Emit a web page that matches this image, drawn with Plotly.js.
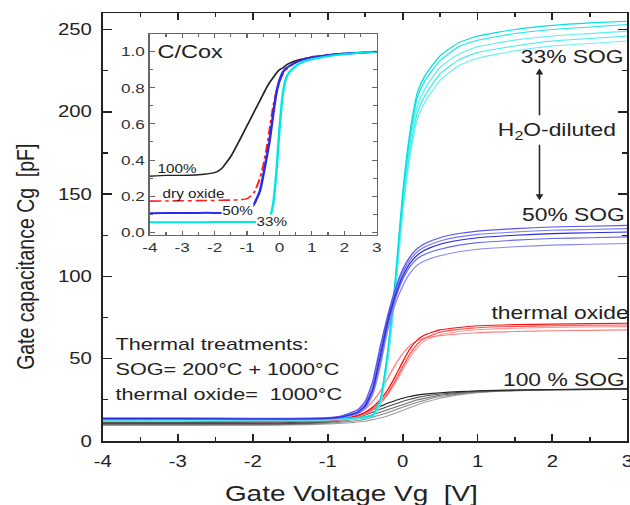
<!DOCTYPE html>
<html><head><meta charset="utf-8">
<script src="https://cdn.plot.ly/plotly-3.0.1.min.js"></script>
<style>html,body{margin:0;padding:0;background:#fff;overflow:hidden}
#wrap{width:630px;height:505px;overflow:hidden}
#chart{width:496px;height:505px;transform:scaleX(1.27);transform-origin:0 0}</style>
</head><body><div id="wrap"><div id="chart"></div></div>
<script>
// Main plot: gate voltage grid (V) and capacitance curves (pF)
var X = [-4,-3,-2,-1.5,-1,-0.8,-0.6,-0.5,-0.4,-0.3,-0.2,-0.1,0,0.1,0.2,0.3,0.5,0.75,1,1.5,2,2.5,3];
var cyan1 = [13.5,13.4,13.3,13.3,13.5,13.8,14.3,14.8,15.8,25,54,97,150,188,212,222,234,242,246,250,252.5,254,255];
var cyan2 = [13.2,13.1,13.1,13.1,13.3,13.6,14.1,14.6,15.6,24.5,53,95,147,185,209,219,231,239.5,243.5,247.5,250,251.5,253];
var cyan3 = [13.0,12.9,12.9,12.9,13.1,13.4,13.9,14.4,15.4,24,51,93,144,181,204,214,227,235,239.5,243.5,246,247.5,249];
var cyan4 = [12.8,12.7,12.7,12.7,12.9,13.2,13.7,14.2,15.2,23,50,91,141,177,200,210,223,231.5,236,240,243,244.5,246];
var cyan5 = [12.6,12.5,12.5,12.5,12.7,13,13.5,14,15,22,48,89,138,173,196,206,219,228,232.5,237,240,241.5,243];
var blue1 = [14,14,13.8,13.8,14.2,15.5,19,24,36,57,76,92,104,112,117,120,123.5,126,127.5,129,130,130.5,131];
var blue2 = [13.8,13.8,13.6,13.6,14,15,18,22.5,33,54,74,90,102,110,115,118,121.5,124,125.5,127,128,128.5,129];
var blue3 = [13.6,13.6,13.4,13.4,13.8,14.8,17.5,21.5,31,51,72,88,100,108,113,116,119.5,122,123.5,125,126,126.5,127];
var blue4 = [13.4,13.4,13.2,13.2,13.6,14.5,17,20.5,30,48,70,86,98,106,111,113.5,116.5,119,120.5,122,123,123.5,124];
var blue5 = [13.2,13.2,13,13,13.4,14.2,16.5,19.5,28,45,67,83,94,102,107,109.5,112.5,115,116.5,118,119,119.5,120];
var red1 = [12,12,11.8,11.8,12.5,14,17,19.5,24,30,38,46,53,58,61,62.5,64,65,65.8,66.5,67,67.2,67.5];
var red2 = [12.5,12.5,12.3,12.3,12.5,13.3,15.5,17.5,20.5,25,31,39,48,56,61.5,64.5,67.5,69,70,70.7,71,71.3,71.5];
var red3 = [12.8,12.7,12.5,12.5,12.4,13,15,16.8,19.5,23.5,29,36.5,45,53,59,62.5,66,67.8,68.8,69.6,70,70.3,70.5];
var red4 = [12.2,12.2,12,12,12.2,12.8,14.6,16.3,18.8,22.5,28,35,43,51,57,61,64.5,66.5,67.6,68.5,69,69.3,69.5];
var black1 = [11,11,11,11.2,12.5,13.5,15.5,17,19,21,23,24.5,26,27,28,28.5,29.3,30,30.5,31,31.3,31.5,31.7];
var black2 = [10.5,10.5,10.5,10.6,11.8,12.8,14.5,15.8,17.5,19.3,21,22.5,24,25.3,26.5,27.3,28.5,29.5,30.2,30.9,31.2,31.4,31.6];
var black3 = [10.2,10.2,10.2,10.3,11.3,12.2,13.5,14.5,16,17.5,19,20.5,22,23.5,25,26,27.8,29,29.9,30.7,31.1,31.3,31.5];
var black4 = [9.8,9.8,9.8,10,10.8,11.5,12.5,13.3,14.5,15.8,17.2,18.8,20.5,22,23.5,24.8,27,28.6,29.7,30.6,31,31.3,31.5];
var black5 = [9.5,9.5,9.6,9.7,10.3,10.8,11.5,12,13,14,15.2,16.8,18.5,20.3,22,23.5,26,28,29.3,30.5,31,31.2,31.4];

// Inset: normalised C/Cox
var X2 = [-4,-3.5,-3,-2.5,-2,-1.8,-1.5,-1.2,-1,-0.8,-0.6,-0.5,-0.4,-0.3,-0.2,-0.1,0,0.1,0.2,0.3,0.5,0.75,1,1.5,2,2.5,3];
var in100 = [0.31,0.315,0.315,0.318,0.33,0.35,0.42,0.52,0.59,0.66,0.73,0.765,0.80,0.83,0.855,0.88,0.90,0.91,0.925,0.935,0.95,0.962,0.97,0.98,0.987,0.993,1.0];
var inDry = [0.172,0.173,0.174,0.175,0.176,0.177,0.178,0.18,0.186,0.215,0.30,0.37,0.46,0.575,0.69,0.775,0.835,0.875,0.90,0.918,0.942,0.96,0.972,0.984,0.99,0.995,1.0];
var in50 = [0.105,0.106,0.106,0.107,0.107,0.107,0.108,0.11,0.115,0.15,0.23,0.315,0.41,0.51,0.645,0.765,0.84,0.885,0.908,0.92,0.94,0.958,0.968,0.982,0.99,0.995,1.0];
var in33 = [0.055,0.055,0.055,0.055,0.056,0.056,0.056,0.056,0.056,0.056,0.057,0.058,0.06,0.08,0.15,0.32,0.57,0.76,0.85,0.885,0.92,0.945,0.958,0.975,0.986,0.994,1.0];

// Tick labels (hyphen minus as in the original)
var xTickVals = [-4,-3,-2,-1,0,1,2,3];
var xTickText = ['-4','-3','-2','-1','0','1','2','3'];

var FONT = 'Liberation Sans, Arial, Helvetica, sans-serif';
function main(y, color, w) {
  return {x: X, y: y, type: 'scatter', mode: 'lines', xaxis: 'x', yaxis: 'y',
    line: {color: color, width: w || 1.1, shape: 'spline', smoothing: 0.5}, hoverinfo: 'skip', showlegend: false};
}
function inset(y, color, w, dash) {
  return {x: X2, y: y, type: 'scatter', mode: 'lines', xaxis: 'x2', yaxis: 'y2',
    line: {color: color, width: w, dash: dash || 'solid', shape: 'spline', smoothing: 0.5}, hoverinfo: 'skip', showlegend: false};
}
var data = [
  main(black5, '#a0a0a0'), main(black4, '#8a8a8a'), main(black3, '#707070'), main(black2, '#505050'), main(black1, '#222222'),
  main(red4, '#ff9a9a'), main(red1, '#ff8080'), main(red3, '#ff5050'), main(red2, '#ff1010'),
  main(cyan5, '#70f0f0'), main(cyan4, '#40ecec'), main(cyan3, '#60eeee'), main(cyan2, '#20e6e6'), main(cyan1, '#00e0e0'),
  main(blue5, '#8a8af0'), main(blue4, '#6a6aee'), main(blue2, '#7a7af0'), main(blue1, '#5858ea'), main(blue3, '#2a2ae0'),
  inset(in100, '#222222', 1.4), inset(inDry, '#ff2020', 1.6, 'dashdot'), inset(in50, '#2a2aee', 2), inset(in33, '#00e6e6', 2)
];

var axMain = {showline: true, linewidth: 1.5, linecolor: '#222', mirror: 'allticks', showgrid: false, zeroline: false,
  ticks: 'inside', ticklen: 7, tickwidth: 1.5, tickcolor: '#222', tickfont: {family: FONT, size: 16, color: '#222'}};
var axIn = {showline: true, linewidth: 1.2, linecolor: '#666', mirror: 'allticks', showgrid: false, zeroline: false,
  ticks: 'inside', ticklen: 4, tickwidth: 1, tickcolor: '#666', tickfont: {family: FONT, size: 13.5, color: '#333'}};

function T(x, y, text, size, opts) {
  var a = {x: x, y: y, xref: 'x', yref: 'y', text: text, showarrow: false, font: {family: FONT, size: size, color: '#222'}};
  for (var k in (opts || {})) a[k] = opts[k];
  return a;
}
var annotations = [
  T(2.267, 233.3, '33% SOG', 18),
  T(2.067, 187.8, 'H<sub>2</sub>O-diluted', 18),
  T(2.273, 137.2, '50% SOG', 18),
  T(2.1, 77.9, 'thermal oxide', 18),
  T(2.16, 37, '100 % SOG', 18),
  T(-3.867, 58.9, 'Thermal treatments:', 17, {xanchor: 'left'}),
  T(-3.867, 43.7, 'SOG= 200°C + 1000°C', 17, {xanchor: 'left'}),
  T(-3.867, 28.5, 'thermal oxide=  1000°C', 17, {xanchor: 'left'}),
  {x: 1.827, y: 226.3, ax: 1.827, ay: 196.9, xref: 'x', yref: 'y', axref: 'x', ayref: 'y', text: '', showarrow: true,
   arrowhead: 2, arrowsize: 1, arrowwidth: 1.2, arrowcolor: '#222'},
  {x: 1.827, y: 146.3, ax: 1.827, ay: 180.9, xref: 'x', yref: 'y', axref: 'x', ayref: 'y', text: '', showarrow: true,
   arrowhead: 2, arrowsize: 1, arrowwidth: 1.2, arrowcolor: '#222'},
  T(-3.85, 1.0, 'C/Cox', 18.5, {xref: 'x2', yref: 'y2', xanchor: 'left'}),
  T(-3.85, 0.352, '100%', 12, {xref: 'x2', yref: 'y2', xanchor: 'left'}),
  T(-3.69, 0.209, 'dry oxide', 12, {xref: 'x2', yref: 'y2', xanchor: 'left'}),
  T(-1.79, 0.117, '50%', 12, {xref: 'x2', yref: 'y2', xanchor: 'left', bgcolor: '#fff', borderpad: 0}),
  T(-0.76, 0.056, '33%', 12, {xref: 'x2', yref: 'y2', xanchor: 'left', bgcolor: '#fff', borderpad: 0}),
  {x: 0.473, y: -0.0885, xref: 'paper', yref: 'paper', text: 'Gate Voltage Vg  [V]', showarrow: false, xanchor: 'center', yanchor: 'top',
   font: {family: FONT, size: 22, color: '#222'}},
  {x: -0.148, y: 0.432, xref: 'paper', yref: 'paper', text: 'Gate capacitance Cg  [pF]', showarrow: false, textangle: -90,
   xanchor: 'center', yanchor: 'middle', font: {family: FONT, size: 19.5, color: '#222'}}
];

var layout = {
  width: 496, height: 505, margin: {l: 81, r: 2, t: 13, b: 64}, paper_bgcolor: '#fff', plot_bgcolor: '#fff',
  showlegend: false, font: {family: FONT},
  xaxis: Object.assign({}, axMain, {range: [-4, 3], tickmode: 'array', tickvals: xTickVals, ticktext: xTickText,
    domain: [0, 1], anchor: 'y', ticklabelstandoff: 5, ticklabeloverflow: 'allow',
    minor: {dtick: 0.5, ticks: 'inside', ticklen: 4, tickwidth: 1.2, tickcolor: '#222', showgrid: false}}),
  yaxis: Object.assign({}, axMain, {range: [0, 260], dtick: 50, tick0: 0, domain: [0, 1], anchor: 'x', ticklabelstandoff: 4,
    minor: {dtick: 25, ticks: 'inside', ticklen: 4, tickwidth: 1.2, tickcolor: '#222', showgrid: false}}),
  xaxis2: Object.assign({}, axIn, {range: [-4, 3], tickmode: 'array', tickvals: xTickVals, ticktext: xTickText,
    domain: [0.0895, 0.522], anchor: 'y2',
    minor: {dtick: 0.5, ticks: 'inside', ticklen: 2.5, tickwidth: 1, tickcolor: '#666', showgrid: false}}),
  yaxis2: Object.assign({}, axIn, {range: [-0.013, 1.098], dtick: 0.2, tick0: 0, tickformat: '.1f', domain: [0.4824, 0.9508], anchor: 'x2',
    minor: {dtick: 0.1, ticks: 'inside', ticklen: 2.5, tickwidth: 1, tickcolor: '#666', showgrid: false}}),
  annotations: annotations
};
Plotly.newPlot('chart', data, layout, {staticPlot: true, displayModeBar: false});
</script></body></html>
